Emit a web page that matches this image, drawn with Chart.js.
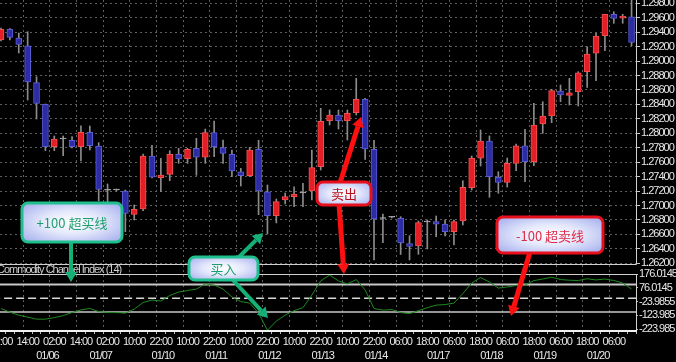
<!DOCTYPE html>
<html>
<head>
<meta charset="utf-8">
<script src="https://cdn.jsdelivr.net/npm/chart.js@4.4.0/dist/chart.umd.min.js"></script>
<style>
  html, body { margin: 0; padding: 0; background: #000; }
  #wrap { width: 676px; height: 362px; }
</style>
</head>
<body>
<div id="wrap"><canvas id="chart" width="676" height="362"></canvas></div>
<script>
// H4 candles, left to right (index 0..71)
const opens = [1.29292,1.29440,1.29320,1.29213,1.28701,1.28401,1.27814,1.27921,1.27903,1.27814,
  1.28014,1.27824,1.27211,1.27215,1.27201,1.26878,1.26952,1.27686,1.27385,1.27432,
  1.27709,1.27648,1.27792,1.27668,1.28010,1.27801,1.27709,1.27468,1.27413,1.27778,
  1.27191,1.26859,1.27076,1.27122,1.27173,1.27201,1.27537,1.28174,1.28253,1.28174,
  1.28285,1.28471,1.27778,1.26820,1.26841,1.26823,1.26474,1.26439,1.26776,1.26776,
  1.26744,1.26637,1.26786,1.27247,1.27654,1.27893,1.27391,1.27319,1.27584,1.27828,
  1.27607,1.28129,1.28239,1.28586,1.28526,1.28576,1.28853,1.29108,1.29351,1.29648,
  1.29596,1.29614];
const highs = [1.29458,1.29451,1.29389,1.29407,1.28784,1.28406,1.27963,1.27963,1.27953,1.28105,
  1.28101,1.27870,1.27298,1.27229,1.27215,1.27007,1.27713,1.27834,1.27654,1.27759,
  1.27792,1.27792,1.27931,1.28059,1.28170,1.27907,1.27769,1.27515,1.27806,1.27904,
  1.27284,1.27090,1.27173,1.27260,1.27308,1.27769,1.28346,1.28323,1.28323,1.28323,
  1.28761,1.28484,1.27904,1.26882,1.26848,1.26845,1.26582,1.26786,1.26799,1.26855,
  1.26799,1.26799,1.27343,1.27686,1.28046,1.27963,1.27468,1.27658,1.27852,1.28055,
  1.28415,1.28437,1.28609,1.28669,1.28761,1.28853,1.29199,1.29385,1.29648,1.29684,
  1.29648,1.29900];
const lows = [1.29278,1.29292,1.29112,1.28461,1.28198,1.27759,1.27759,1.27690,1.27796,1.27616,
  1.27769,1.27062,1.27053,1.27201,1.26637,1.26799,1.26928,1.27381,1.27191,1.27343,
  1.27584,1.27584,1.27418,1.27584,1.27676,1.27584,1.27399,1.27270,1.27399,1.26873,
  1.26606,1.26759,1.27021,1.26984,1.26984,1.27076,1.27492,1.28115,1.28059,1.27907,
  1.28253,1.27640,1.26246,1.26485,1.26827,1.26322,1.26246,1.26324,1.26398,1.26568,
  1.26578,1.26453,1.26730,1.27215,1.27547,1.27114,1.27169,1.27256,1.27482,1.27330,
  1.27551,1.28000,1.28147,1.28437,1.28392,1.28378,1.28637,1.28728,1.29144,1.29523,
  1.29523,1.29213];
const closes = [1.29440,1.29329,1.29232,1.28710,1.28415,1.27814,1.27921,1.27928,1.27814,1.28014,
  1.27828,1.27224,1.27219,1.27222,1.26892,1.26948,1.27686,1.27391,1.27422,1.27709,
  1.27644,1.27778,1.27668,1.28010,1.27814,1.27723,1.27478,1.27413,1.27769,1.27201,
  1.26859,1.27053,1.27122,1.27159,1.27180,1.27524,1.28166,1.28253,1.28174,1.28277,
  1.28471,1.27782,1.26813,1.26827,1.26837,1.26481,1.26432,1.26762,1.26772,1.26740,
  1.26637,1.26776,1.27252,1.27654,1.27893,1.27399,1.27321,1.27584,1.27828,1.27607,
  1.28115,1.28239,1.28590,1.28530,1.28562,1.28839,1.29098,1.29347,1.29648,1.29592,
  1.29624,1.29260];

// Commodity Channel Index (14), one value per candle
const cci = [-75,-101,-123,-137,-152,-152,-141,-126,-104,-85,
  -74,-97,-103,-104,-108,-79,-31,-13,-20,20,
  45,56,67,104,96,67,9,-24,-35,-108,
  -232,-166,-122,-90,-68,23,126,169,126,104,
  136,60,-75,-86,-82,-104,-112,-90,-69,-50,
  -46,-35,34,111,151,118,74,82,93,96,
  128,140,153,136,131,129,142,133,140,129,
  111,67];
const cciLevels = [100, 0, -100];

const priceTicks = [1.262,1.264,1.266,1.268,1.270,1.272,1.274,1.276,1.278,1.280,
  1.282,1.284,1.286,1.288,1.290,1.292,1.294,1.296,1.298];
const cciTicks = [176.0145, 76.0145, -23.9855, -123.985, -223.985];

// one time label every third candle
const timeLabels = ['02:00','14:00','02:00','14:00','02:00','10:00','22:00','10:00','22:00','10:00',
  '22:00','10:00','22:00','10:00','22:00','06:00','18:00','06:00','18:00','06:00',
  '18:00','06:00','18:00','06:00'];
const dateLabels = ['01/06','01/07','01/10','01/11','01/12','01/13','01/14','01/17','01/18','01/19','01/20'];
const dateBars = [5, 11, 18, 24, 30, 36, 42, 49, 55, 61, 67];

const SANS = '"Liberation Sans", Arial, sans-serif';
const CJK = '"Noto Sans CJK SC", "Noto Sans", sans-serif';
const tickFont = { family: SANS, size: 11 };

const idx = closes.map((c, i) => i);
const isDoji = i => Math.abs(closes[i] - opens[i]) < 0.00012;
const bodyFill = idx.map(i => isDoji(i) ? '#b0b0b0' : (closes[i] > opens[i] ? '#e41e26' : '#2c2ca4'));
const bodyEdge = idx.map(i => isDoji(i) ? '#b0b0b0' : (closes[i] > opens[i] ? '#f25050' : '#5c5cd6'));

const levelSets = cciLevels.map(lv => ({
  type: 'line',
  yAxisID: 'yc',
  data: [{ x: -1, y: lv }, { x: 72, y: lv }],
  borderColor: lv === 0 ? '#d8d8d8' : '#c8c8c8',
  borderWidth: lv === 100 ? 2 : 1.5,
  borderDash: lv === 0 ? [8, 4] : [],
  pointRadius: 0,
  order: 3
}));

// callouts as drawn on the picture
const callouts = [
  { box: [22, 203, 100, 39], edge: '#1fc08e', ink: '#1e9e6e', text: '+100 超买线',
    arrows: [[71, 242, 71, 282]] },
  { box: [189, 257, 69, 23], edge: '#1fc08e', ink: '#1e9e6e', text: '买入',
    arrows: [[238, 258, 263, 233], [232, 279, 268, 318]] },
  { box: [317, 182, 54, 23], edge: '#e8101c', ink: '#b8101e', text: '卖出',
    arrows: [[340, 183, 361, 117], [339, 204, 344, 274]] },
  { box: [497, 217, 106, 36], edge: '#e8101c', ink: '#e02848', text: '-100 超卖线',
    arrows: [[530, 252, 511, 316]] }
];

function arrow(ctx, x0, y0, x1, y1, color, w) {
  const a = Math.atan2(y1 - y0, x1 - x0);
  const head = 10, half = 6;
  const bx = x1 - Math.cos(a) * head, by = y1 - Math.sin(a) * head;
  ctx.strokeStyle = color;
  ctx.fillStyle = color;
  ctx.lineWidth = w;
  ctx.beginPath();
  ctx.moveTo(x0, y0);
  ctx.lineTo(bx, by);
  ctx.stroke();
  ctx.beginPath();
  ctx.moveTo(x1, y1);
  ctx.lineTo(bx + Math.sin(a) * half, by - Math.cos(a) * half);
  ctx.lineTo(bx - Math.sin(a) * half, by + Math.cos(a) * half);
  ctx.closePath();
  ctx.fill();
}

const panels = {
  id: 'panels',
  beforeDraw(chart) {
    // the terminal font is narrow: tighten the axis labels
    chart.ctx.letterSpacing = '-1px';
  },
  afterDatasetsDraw(chart) {
    const { ctx, chartArea, scales } = chart;
    const topCci = scales.yc.getPixelForValue(cciTicks[0]);
    ctx.save();
    ctx.strokeStyle = '#d0d0d0';
    ctx.lineWidth = 1;
    ctx.beginPath();
    ctx.moveTo(0, scales.y.bottom + 0.5);
    ctx.lineTo(chartArea.right + 0.5, scales.y.bottom + 0.5);
    ctx.lineTo(chartArea.right + 0.5, 0);
    ctx.moveTo(0, Math.round(topCci) + 0.5);
    ctx.lineTo(chartArea.right + 0.5, Math.round(topCci) + 0.5);
    ctx.lineTo(chartArea.right + 0.5, chartArea.bottom);
    ctx.stroke();
    ctx.strokeStyle = '#f0f0f0';
    ctx.lineWidth = 2;
    ctx.beginPath();
    ctx.moveTo(0, chartArea.bottom);
    ctx.lineTo(chartArea.right + 1, chartArea.bottom);
    ctx.stroke();

    ctx.fillStyle = '#d0d0d0';
    ctx.font = '11px ' + SANS;
    ctx.textBaseline = 'middle';
    ctx.textAlign = 'left';
    ctx.fillText('Commodity Channel Index (14)', -3, (scales.y.bottom + topCci) / 2 + 0.5);

    ctx.fillStyle = '#e8e8e8';
    ctx.textAlign = 'center';
    dateLabels.forEach((d, k) => {
      ctx.fillText(d, scales.x.getPixelForValue(dateBars[k]) + 2, 356);
    });
    ctx.restore();
  },
  afterDraw(chart) {
    const ctx = chart.ctx;
    ctx.save();
    ctx.letterSpacing = '0px';
    callouts.forEach(c => {
      c.arrows.forEach(a => arrow(ctx, a[0], a[1], a[2], a[3], c.edge === '#1fc08e' ? '#14b078' : '#ff1010', c.edge === '#1fc08e' ? 4 : 5));
    });
    callouts.forEach(c => {
      const [x, y, w, h] = c.box;
      ctx.save();
      ctx.beginPath();
      ctx.roundRect(x, y, w, h, 6);
      ctx.clip();
      ctx.translate(x + w / 2, y + h / 2);
      ctx.scale(w / 2, h / 2);
      const g = ctx.createRadialGradient(0, 0, 0, 0, 0, 1.3);
      g.addColorStop(0, '#ffffff');
      g.addColorStop(0.45, '#e4e8fb');
      g.addColorStop(1, '#a9b2ee');
      ctx.fillStyle = g;
      ctx.fillRect(-1.2, -1.2, 2.4, 2.4);
      ctx.restore();
      ctx.beginPath();
      ctx.roundRect(x, y, w, h, 6);
      ctx.strokeStyle = c.edge;
      ctx.lineWidth = 3;
      ctx.stroke();
      ctx.fillStyle = c.ink;
      ctx.font = '13px ' + CJK;
      ctx.textAlign = 'center';
      ctx.textBaseline = 'middle';
      ctx.fillText(c.text, x + w / 2, y + h / 2 + 1);
    });
    ctx.restore();
  }
};

Chart.defaults.font.family = SANS;

new Chart(document.getElementById('chart'), {
  type: 'bar',
  data: {
    datasets: [
      {
        label: 'body',
        data: idx.map(i => ({ x: i, y: [opens[i], closes[i]] })),
        backgroundColor: bodyFill,
        borderColor: bodyEdge,
        borderWidth: 1,
        borderSkipped: false,
        barThickness: 6,
        minBarLength: 1,
        grouped: false,
        yAxisID: 'y',
        order: 1
      },
      {
        label: 'wick',
        data: idx.map(i => ({ x: i, y: [lows[i], highs[i]] })),
        backgroundColor: '#8c8c8c',
        borderWidth: 0,
        barThickness: 1,
        grouped: false,
        yAxisID: 'y',
        order: 2
      },
      {
        type: 'line',
        label: 'CCI(14)',
        data: idx.map(i => ({ x: i, y: cci[i] })),
        borderColor: '#1f8a1f',
        borderWidth: 1,
        pointRadius: 0,
        tension: 0,
        yAxisID: 'yc',
        order: 0
      },
      ...levelSets
    ]
  },
  options: {
    responsive: false,
    animation: false,
    devicePixelRatio: 1,
    layout: { padding: 0 },
    plugins: {
      legend: { display: false },
      tooltip: { enabled: false },
      title: { display: false }
    },
    scales: {
      x: {
        type: 'linear',
        min: -0.113,
        max: 71.5,
        offset: false,
        afterBuildTicks: s => { s.ticks = idx.map(v => ({ value: v })); },
        afterFit: s => { s.height = 31; s.paddingLeft = 0; s.paddingRight = 0; },
        ticks: {
          autoSkip: false,
          maxRotation: 0,
          minRotation: 0,
          color: '#e8e8e8',
          font: tickFont,
          padding: 1,
          callback: v => (v % 3 === 0 ? timeLabels[v / 3] : '')
        },
        grid: {
          color: c => (c.tick && c.tick.value % 3 === 0 ? '#5e5e5e' : 'rgba(0,0,0,0)'),
          tickColor: '#bcbcbc',
          tickLength: 3
        },
        border: { display: false, dash: [2, 3] }
      },
      y: {
        type: 'linear',
        position: 'right',
        stack: 'panes',
        stackWeight: 264,
        min: 1.2619,
        max: 1.29846,
        afterBuildTicks: s => { s.ticks = priceTicks.map(v => ({ value: v })); },
        afterFit: s => { s.width = 40; s.paddingTop = 0; s.paddingBottom = 0; },
        ticks: { autoSkip: false, color: '#e8e8e8', font: tickFont, padding: 1, callback: v => v.toFixed(5) },
        grid: { color: '#5e5e5e', tickColor: '#c8c8c8', tickLength: 4 },
        border: { display: false, dash: [2, 3] }
      },
      yc: {
        type: 'linear',
        position: 'right',
        stack: 'panes',
        stackWeight: 67,
        min: -238,
        max: 249,
        afterBuildTicks: s => { s.ticks = cciTicks.map(v => ({ value: v })); },
        afterFit: s => { s.width = 40; s.paddingTop = 0; s.paddingBottom = 0; },
        ticks: { autoSkip: false, color: '#e8e8e8', font: tickFont, padding: 1, callback: v => String(v) },
        grid: { drawOnChartArea: false, tickColor: '#c8c8c8', tickLength: 2 },
        border: { display: false }
      }
    }
  },
  plugins: [panels]
});
</script>
</body>
</html>
